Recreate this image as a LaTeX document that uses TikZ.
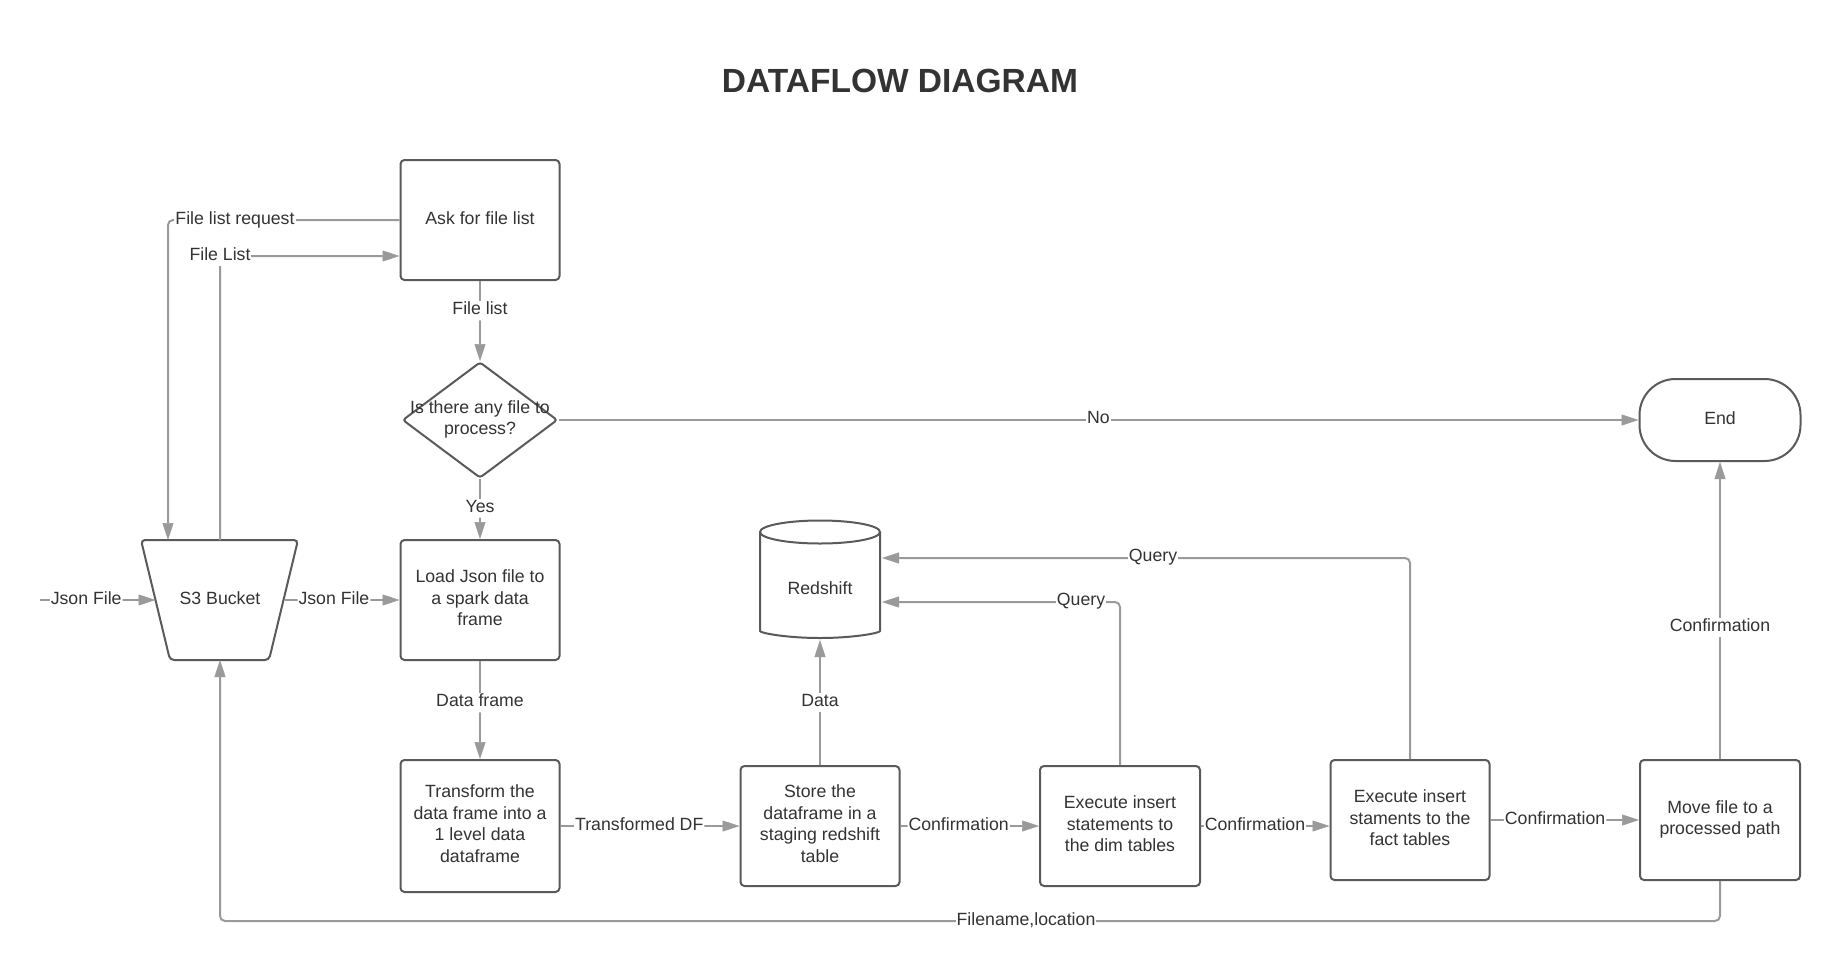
\documentclass[tikz,border=0pt]{standalone}
\usepackage{fontspec}
\setmainfont{Liberation Sans}
\usetikzlibrary{arrows.meta,shapes.geometric}
\definecolor{txtc}{HTML}{333333}
\definecolor{bordc}{HTML}{5A5A5A}
\definecolor{lnc}{HTML}{9A9A9A}
\begin{document}
\begin{tikzpicture}[x=1pt,y=-1pt,
  every node/.style={font=\fontsize{17.7}{21.5}\selectfont, text=txtc, text depth=4.5pt},
  box/.style={draw=bordc, line width=2pt, rounded corners=4pt, minimum width=159pt,
    minimum height=120pt, align=center, inner sep=0pt},
  shp/.style={draw=bordc, line width=2pt, rounded corners=4pt},
  arr/.style={draw=lnc, line width=2pt, rounded corners=5pt,
    -{Triangle[length=17pt,width=11pt,line width=0.5pt,fill=lnc]}},
  lab/.style={fill=white, inner sep=1pt},
]
\useasboundingbox[fill=white] (0,0) rectangle (1840,972);

\node[font=\bfseries\fontsize{33.5}{40}\selectfont, text depth=0pt] (title) at (900,81) {DATAFLOW DIAGRAM};

% nodes
\node[box] (ask) at (480,220) {Ask for file list};
\node[diamond, shp, minimum width=155pt, minimum height=116pt, inner sep=0pt, text depth=0pt, rounded corners=3pt] (dec) at (480,420) {};
\node[align=center] (dectext) at (480,420) {Is there any file to\\process?};
\node[box, minimum width=161pt, minimum height=82pt, rounded corners=36pt] (endn) at (1720,420) {End};

\draw[shp] (141,540) -- (298,540) -- (269,660) -- (170,660) -- cycle;
\node (s3) at (220,600) {S3 Bucket};
\coordinate (s3n) at (220,540);
\coordinate (s3nl) at (168,540);
\coordinate (s3s) at (220,660);
\coordinate (s3l) at (155.5,600);
\coordinate (s3r) at (284.5,600);
\coordinate (jin) at (40,600);

\node[box] (load) at (480,600) {Load Json file to\\a spark data\\frame};
\node[box, minimum height=132pt] (trans) at (480,826) {Transform the\\data frame into a\\1 level data\\dataframe};
\node[box] (store) at (820,826) {Store the\\dataframe in a\\staging redshift\\table};
\node[box, minimum width=160pt] (dim) at (1120,826) {Execute insert\\statements to\\the dim tables};
\node[box] (fact) at (1410,820) {Execute insert\\staments to the\\fact tables};
\node[box, minimum width=160pt] (move) at (1720,820) {Move file to a\\processed path};

% cylinder
\draw[shp] (820,532) ellipse [x radius=60pt, y radius=11.5pt];
\draw[shp] (760,532) -- (760,627) arc[start angle=180, end angle=360, x radius=60pt, y radius=11pt] -- (880,532);
\node (red) at (820,590) {Redshift};
\coordinate (redb) at (820,640);
\coordinate (redq1) at (882,558);
\coordinate (redq2) at (882,602);

% connectors
\draw[arr] (ask.west) -- (168,220) -- (s3nl);
\node[lab] (l1) at (235,220) {File list request};
\draw[arr] (s3n) -- (220,256) -- (ask.west |- 0,256);
\node[lab] (l2) at (220,256) {File List};
\draw[arr] (ask.south) -- node[lab, pos=0.37] {File list} (dec.north);
\draw[arr] (dec.east) -- node[lab, pos=0.5] {No} (endn.west);
\draw[arr] (dec.south) -- node[lab, pos=0.49] {Yes} (load.north);
\draw[arr] (jin) -- node[lab, pos=0.4] {Json File} (s3l);
\draw[arr] (s3r) -- node[lab, pos=0.43] {Json File} (load.west);
\draw[arr] (load.south) -- node[lab, pos=0.425] {Data frame} (trans.north);
\draw[arr] (trans.east) -- node[lab, pos=0.44] {Transformed DF} (store.west);
\draw[arr] (store.north) -- node[lab, pos=0.50] {Data} (redb);
\draw[arr] (store.east) -- node[lab, pos=0.42] {Confirmation} (dim.west);
\draw[arr] (dim.north) -- (1120,602) -- (redq2);
\node[lab] (q2) at (1081,602) {Query};
\draw[arr] (fact.north) -- (1410,558) -- (redq1);
\node[lab] (q1) at (1153,558) {Query};
\draw[arr] (dim.east) -- node[lab, pos=0.42] {Confirmation} (dim.east -| fact.west);
\draw[arr] (fact.east) -- node[lab, pos=0.435] {Confirmation} (move.west);
\draw[arr] (move.north) -- node[lab, pos=0.443] {Confirmation} (endn.south);
\draw[arr] (move.south) -- (1720,921) -- (220,921) -- (s3s);
\node[lab] (fl) at (1026,921) {Filename,location};
\end{tikzpicture}
\end{document}
